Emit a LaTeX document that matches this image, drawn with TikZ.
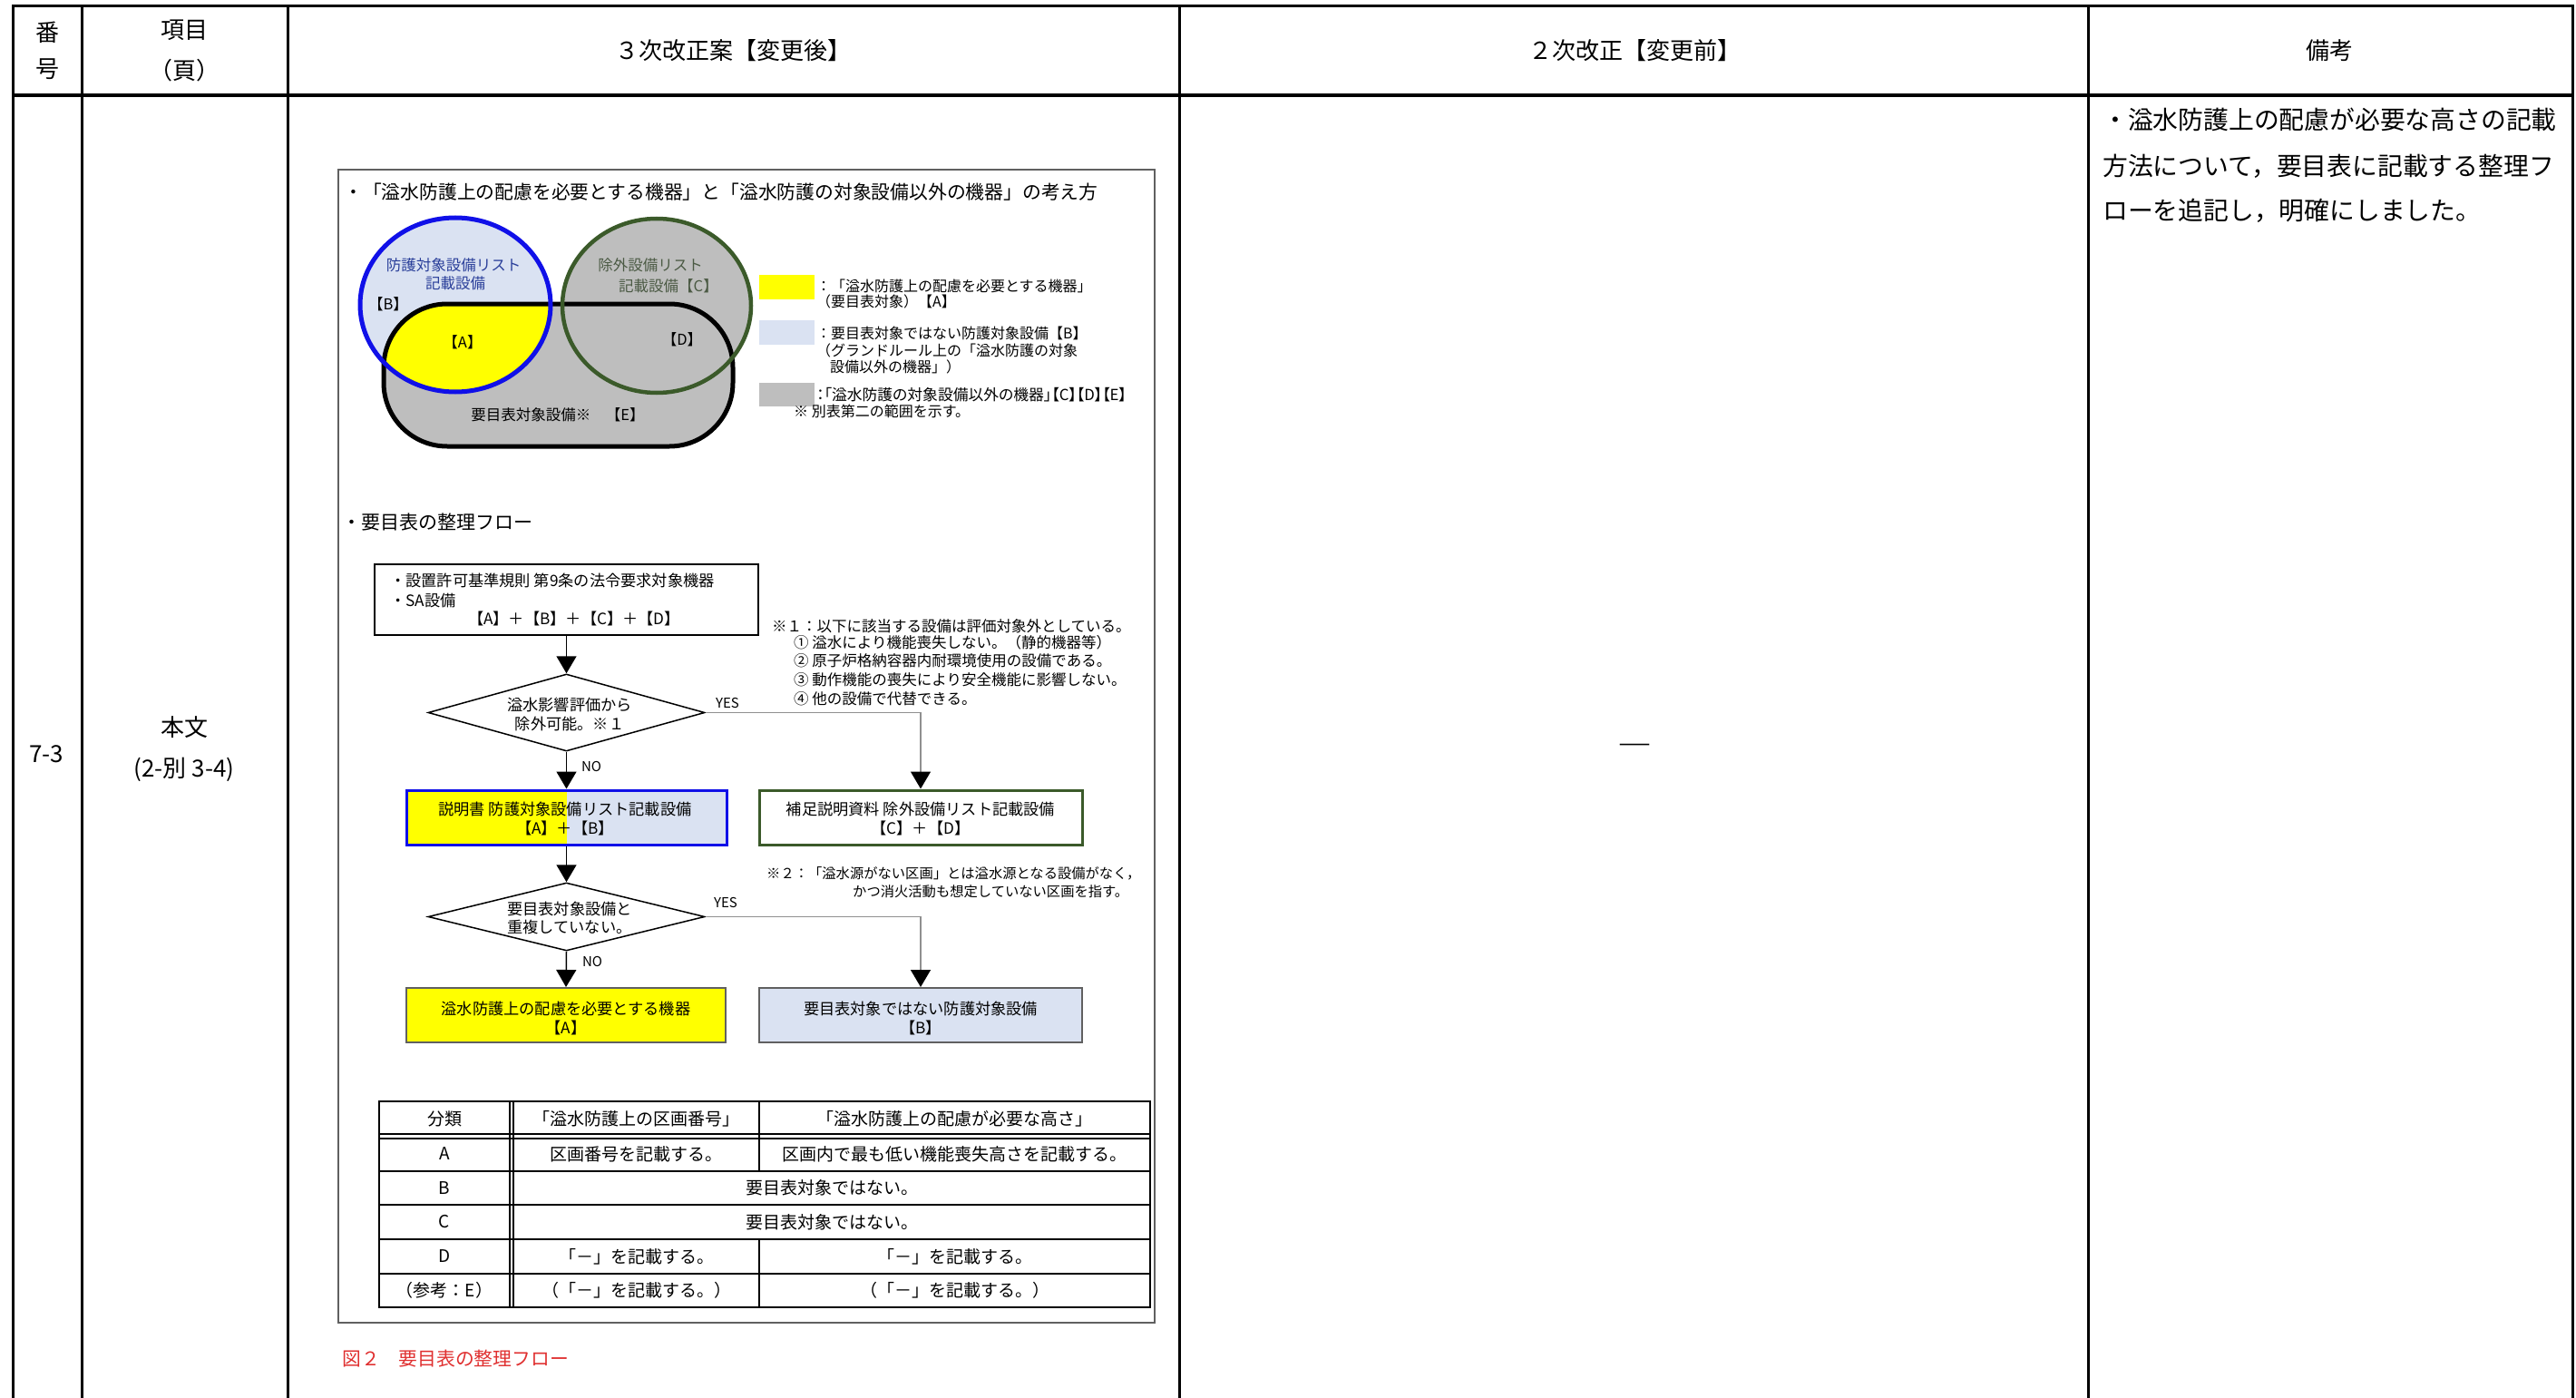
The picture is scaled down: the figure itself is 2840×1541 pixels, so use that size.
\documentclass[tikz,border=0pt]{standalone}
\usepackage{fontspec}
\setmainfont{Noto Sans CJK JP}
\newfontfamily\figfont[RawFeature=+palt]{Noto Sans CJK JP}
\newfontfamily\figfontm{Noto Sans CJK JP}
\usetikzlibrary{arrows.meta,shapes.geometric,calc}
\definecolor{ylw}{HTML}{FFFF00}
\definecolor{lblue}{HTML}{DAE2F2}
\definecolor{gry}{HTML}{BEBEBE}
\definecolor{bstroke}{HTML}{1010E8}
\definecolor{gstroke}{HTML}{3B5A2A}
\definecolor{btext}{HTML}{2A3F9A}
\definecolor{gtext}{HTML}{4B5A44}
\definecolor{capred}{HTML}{E03030}
\definecolor{boxgray}{HTML}{606060}
\definecolor{yesgray}{HTML}{909090}
\tikzset{
  mt/.style={font=\fontsize{26pt}{31pt}\selectfont, inner sep=0pt},
  rem/.style={font=\fontsize{27.8pt}{33pt}\selectfont, inner sep=0pt, anchor=west},
  ftitle/.style={font={\figfontm\fontsize{20.8pt}{25pt}\selectfont}, inner sep=0pt, anchor=west},
  fv/.style={font={\figfontm\fontsize{16.5pt}{20pt}\selectfont}, inner sep=0pt},
  ft/.style={font={\figfontm\fontsize{17.2pt}{21pt}\selectfont}, inner sep=0pt},
  fn/.style={font={\figfontm\fontsize{16.5pt}{20pt}\selectfont}, inner sep=0pt, anchor=west},
  fl/.style={font={\figfontm\fontsize{16pt}{20pt}\selectfont}, inner sep=0pt, anchor=west},
  ftab/.style={font={\figfontm\fontsize{19pt}{23pt}\selectfont}, inner sep=0pt},
  fyn/.style={font={\figfont\fontsize{15pt}{18pt}\selectfont}, inner sep=0pt},
  tline/.style={line width=3pt},
  fbox/.style={draw, line width=1.5pt, inner sep=0pt, fill=white},
  dia/.style={diamond, draw, line width=1.5pt, inner sep=0pt, aspect=3.6},
  arr/.style={line width=1.5pt, -{Triangle[length=19pt,width=22pt]}},
  yarr/.style={line width=1.5pt, draw=yesgray, -{Triangle[length=19pt,width=22pt,color=black,fill=black]}},
  itl/.style={line width=2pt},
}
\begin{document}
\begin{tikzpicture}[x=1pt,y=-1pt]
\useasboundingbox (0,0) rectangle (2840,1541);
\fill[white] (0,0) rectangle (2840,1541);
% ---------- main table ----------
\draw[tline] (14.5,7) -- (2836,7);
\draw[line width=4pt] (14.5,105) -- (2836,105);
\foreach \x in {14.5,90.6,317,1300,2302,2836} \draw[tline] (\x,5.5) -- (\x,1541);
\node[mt] (hnoA) at (52,36) {番};
\node[mt] (hnoB) at (52,76) {号};
\node[mt] (hitA) at (203,33) {項目};
\node[mt] (hitB) at (203,78) {（頁）};
\node[mt] (hnew) at (808,56) {３次改正案【変更後】};
\node[mt] (hold) at (1802,56) {２次改正【変更前】};
\node[mt] (hrem) at (2568,56) {備考};
\node[mt] (num) at (51,831) {7-3};
\node[mt] (itemA) at (203,802) {本文};
\node[mt] (itemB) at (203,848) {(2-別 3-4)};
\node[mt, font=\fontsize{38pt}{40pt}\selectfont] (dash) at (1802,828) {―};
\node[rem] (r1) at (2318,132) {・溢水防護上の配慮が必要な高さの記載};
\node[rem] (r2) at (2318,183) {方法について，要目表に記載する整理フ};
\node[rem] (r3) at (2318,232) {ローを追記し，明確にしました。};
% ---------- figure ----------
\draw[line width=1.5pt, draw=boxgray] (373,187) rectangle (1273,1458);
\node[ftitle] (title) at (379,212) {・「溢水防護上の配慮を必要とする機器」と「溢水防護の対象設備以外の機器」の考え方};
% Venn
\fill[gry] (724,337) ellipse [x radius=104, y radius=96];
\fill[gry, rounded corners=70pt] (423,335) rectangle (808,492);
\fill[lblue] (502,336) ellipse [x radius=105, y radius=96];
\begin{scope}
  \clip (502,336) ellipse [x radius=105, y radius=96];
  \fill[ylw, rounded corners=70pt] (423,335) rectangle (808,492);
\end{scope}
\draw[line width=5pt, rounded corners=70pt] (423,335) rectangle (808,492);
\draw[bstroke, line width=5pt] (502,336) ellipse [x radius=105, y radius=96];
\draw[gstroke, line width=4.5pt] (724,337) ellipse [x radius=104, y radius=96];
\node[fv, text=btext] (vb1) at (500,292) {防護対象設備リスト};
\node[fv, text=btext] (vb2) at (502,312) {記載設備};
\node[fv] (vB) at (428,335) {【B】};
\node[fv, text=gtext] (vc1) at (717,292) {除外設備リスト};
\node[fv, text=gtext] (vc2) at (737,315) {記載設備【C】};
\node[fv] (vA) at (510,377) {【A】};
\node[fv] (vD) at (752,374) {【D】};
\node[fv] (vE) at (615,457) {要目表対象設備※　【E】};
% legend
\fill[ylw] (837,303) rectangle (898,330);
\fill[lblue] (837,353) rectangle (898,380);
\fill[gry] (837,422) rectangle (898,448);
\node[fl] (l1) at (900,315) {：「溢水防護上の配慮を必要とする機器」};
\node[fl] (l2) at (900,332) {（要目表対象）【A】};
\node[fl] (l3) at (900,367) {：要目表対象ではない防護対象設備【B】};
\node[fl] (l4) at (900,386) {（グランドルール上の「溢水防護の対象};
\node[fl] (l5) at (915,404) {設備以外の機器」）};
\node[fl, font={\figfont\fontsize{16.8pt}{20pt}\selectfont}] (l6) at (900,435) {：「溢水防護の対象設備以外の機器」【C】【D】【E】};
\node[fl] (l7) at (875,453) {※ 別表第二の範囲を示す。};
% flow
\node[ftitle, font={\figfontm\fontsize{21pt}{25pt}\selectfont}] (ftitle) at (377,576) {・要目表の整理フロー};
\node[fbox, minimum width=423pt, minimum height=78pt] (b1) at (624.5,661) {};
\node[ft, anchor=west] (b1t1) at (430,640) {・設置許可基準規則 第9条の法令要求対象機器};
\node[ft, anchor=west] (b1t2) at (430,662) {・SA設備};
\node[ft] (b1t3) at (633,682) {【A】＋【B】＋【C】＋【D】};
\node[fn] (n1a) at (851,690) {※１：以下に該当する設備は評価対象外としている。};
\node[fn] (n1b) at (875,708) {① 溢水により機能喪失しない。（静的機器等）};
\node[fn] (n1c) at (875,728) {② 原子炉格納容器内耐環境使用の設備である。};
\node[fn] (n1d) at (875,749) {③ 動作機能の喪失により安全機能に影響しない。};
\node[fn] (n1e) at (875,770) {④ 他の設備で代替できる。};
\node[dia, minimum width=305pt, minimum height=85pt] (d1) at (624.5,785.5) {};
\node[ft] (d1t1) at (628,777) {溢水影響評価から};
\node[ft] (d1t2) at (628,798) {除外可能。※１};
\node[fyn] (yes1) at (802,775) {YES};
\node[fyn] (no1) at (652,845) {NO};
\node[draw=bstroke, line width=3pt, minimum width=353pt, minimum height=60pt, inner sep=0pt,
  path picture={\fill[ylw] (path picture bounding box.south west) rectangle (path picture bounding box.north);
                \fill[lblue] (path picture bounding box.north) rectangle (path picture bounding box.south east);}]
  (b2l) at (624.5,901) {};
\node[ft] (b2lt1) at (623,892) {説明書 防護対象設備リスト記載設備};
\node[ft] (b2lt2) at (623,913) {【A】＋【B】};
\node[draw=gstroke, line width=3pt, fill=white, minimum width=356pt, minimum height=60pt, inner sep=0pt] (b2r) at (1015,901) {};
\node[ft] (b2rt1) at (1015,892) {補足説明資料 除外設備リスト記載設備};
\node[ft] (b2rt2) at (1015,913) {【C】＋【D】};
\node[fn, font={\figfontm\fontsize{15.3pt}{18pt}\selectfont}] (n2a) at (845,963) {※２：「溢水源がない区画」とは溢水源となる設備がなく，};
\node[fn, font={\figfontm\fontsize{15.3pt}{18pt}\selectfont}] (n2b) at (940,983) {かつ消火活動も想定していない区画を指す。};
\node[dia, minimum width=305pt, minimum height=75pt] (d2) at (624.5,1010.5) {};
\node[ft] (d2t1) at (628,1002) {要目表対象設備と};
\node[ft] (d2t2) at (628,1022) {重複していない。};
\node[fyn] (yes2) at (800,995) {YES};
\node[fyn] (no2) at (653,1060) {NO};
\node[draw=boxgray, fill=ylw, line width=2pt, minimum width=352pt, minimum height=60pt, inner sep=0pt] (b3l) at (624,1119) {};
\node[ft] (b3lt1) at (624,1112) {溢水防護上の配慮を必要とする機器};
\node[ft] (b3lt2) at (624,1133) {【A】};
\node[draw=boxgray, fill=lblue, line width=2pt, minimum width=356pt, minimum height=60pt, inner sep=0pt] (b3r) at (1015,1119) {};
\node[ft] (b3rt1) at (1015,1112) {要目表対象ではない防護対象設備};
\node[ft] (b3rt2) at (1015,1133) {【B】};
\draw[arr] (b1.south) -- (d1.north);
\draw[arr] (d1.south) -- (b2l.north);
\draw[yarr] (d1.east) -| (b2r.north);
\draw[arr] (b2l.south) -- (d2.north);
\draw[arr] (d2.south) -- (b3l.north);
\draw[yarr] (d2.east) -| (b3r.north);
% figure table
\draw[itl] (418,1214) rectangle (1268,1441);
\draw[itl] (418,1250) -- (1268,1250);
\draw[itl] (418,1255) -- (1268,1255);
\draw[itl] (562,1214) -- (562,1441);
\draw[itl] (566,1214) -- (566,1441);
\draw[itl] (837,1214) -- (837,1291);
\draw[itl] (837,1366) -- (837,1441);
\foreach \y in {1291,1328,1366,1404} \draw[itl] (418,\y) -- (1268,\y);
\node[ftab] (t00) at (490,1233) {分類};
\node[ftab] (t01) at (701.5,1233) {「溢水防護上の区画番号」};
\node[ftab] (t02) at (1052.5,1233) {「溢水防護上の配慮が必要な高さ」};
\node[ftab] (t10) at (490,1272) {A};
\node[ftab] (t11) at (701.5,1272) {区画番号を記載する。};
\node[ftab] (t12) at (1052.5,1272) {区画内で最も低い機能喪失高さを記載する。};
\node[ftab] (t20) at (490,1309.5) {B};
\node[ftab] (t21) at (917,1309.5) {要目表対象ではない。};
\node[ftab] (t30) at (490,1347) {C};
\node[ftab] (t31) at (917,1347) {要目表対象ではない。};
\node[ftab] (t40) at (490,1385) {D};
\node[ftab] (t41) at (701.5,1385) {「－」を記載する。};
\node[ftab] (t42) at (1052.5,1385) {「－」を記載する。};
\node[ftab] (t50) at (490,1422.5) {（参考：E）};
\node[ftab] (t51) at (701.5,1422.5) {（「－」を記載する。）};
\node[ftab] (t52) at (1052.5,1422.5) {（「－」を記載する。）};
\node[ftitle, text=capred] (cap) at (377,1498) {図２　要目表の整理フロー};
\end{tikzpicture}
\end{document}
